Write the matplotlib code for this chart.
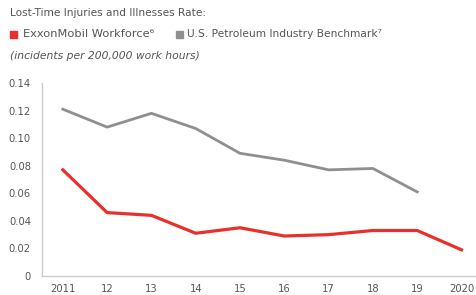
import matplotlib.pyplot as plt
from matplotlib.patches import Rectangle

years = [2011, 2012, 2013, 2014, 2015, 2016, 2017, 2018, 2019, 2020]
year_labels = ['2011', '12', '13', '14', '15', '16', '17', '18', '19', '2020']
exxon = [0.077, 0.046, 0.044, 0.031, 0.035, 0.029, 0.030, 0.033, 0.033, 0.019]
bench_years = [2011, 2012, 2013, 2014, 2015, 2016, 2017, 2018, 2019]
benchmark = [0.121, 0.108, 0.118, 0.107, 0.089, 0.084, 0.077, 0.078, 0.061]
y_ticks = [0, 0.02, 0.04, 0.06, 0.08, 0.10, 0.12, 0.14]
y_labels = ['0', '0.02', '0.04', '0.06', '0.08', '0.10', '0.12', '0.14']

RED = '#e8312b'
GRAY = '#8f8f8f'
TEXT = '#555555'

plt.rcParams['font.family'] = ['DejaVu Sans']

W, H = 477, 295
fig = plt.figure(figsize=(W / 100, H / 100), dpi=100)
ax = fig.add_axes([42 / W, 1 - 276 / H, 1 - 42 / W, 193 / H])

ax.plot(bench_years, benchmark, color=GRAY, lw=2.0, solid_joinstyle='miter')
ax.plot(years, exxon, color=RED, lw=2.3, solid_joinstyle='miter')

ax.set_xlim(2010.53, 2020.35)
ax.set_ylim(0, 0.14)
ax.set_xticks(years)
ax.set_xticklabels(year_labels)
ax.set_yticks(y_ticks)
ax.set_yticklabels(y_labels)
ax.tick_params(length=0, labelsize=7.2, colors=TEXT)
ax.tick_params(axis='y', pad=8)
ax.tick_params(axis='x', pad=6)
for s in ['top', 'right']:
    ax.spines[s].set_visible(False)
for s in ['left', 'bottom']:
    ax.spines[s].set_color('#cccccc')
    ax.spines[s].set_linewidth(1.0)


def header_text(x0, x1, y, s, **kw):
    # size the text so it spans the same width as in the original
    t = fig.text(x0 / W, 1 - y / H, s, fontsize=7, color=TEXT, va='center', **kw)
    r = fig.canvas.get_renderer()
    w = t.get_window_extent(r).width
    t.set_fontsize(7 * (x1 - x0) / w)
    return t


header_text(10, 207, 13, 'Lost-Time Injuries and Illnesses Rate:')
fig.patches.append(Rectangle((10 / W, 1 - 38 / H), 7 / W, 7 / H,
                             transform=fig.transFigure, color=RED))
header_text(23, 153, 34, 'ExxonMobil Workforce\u2076')
fig.patches.append(Rectangle((176 / W, 1 - 38 / H), 7 / W, 7 / H,
                             transform=fig.transFigure, color=GRAY))
header_text(187, 382, 34, 'U.S. Petroleum Industry Benchmark\u2077')
header_text(10, 201, 56, '(incidents per 200,000 work hours)', style='italic')

fig.savefig('out.png', dpi=100)
